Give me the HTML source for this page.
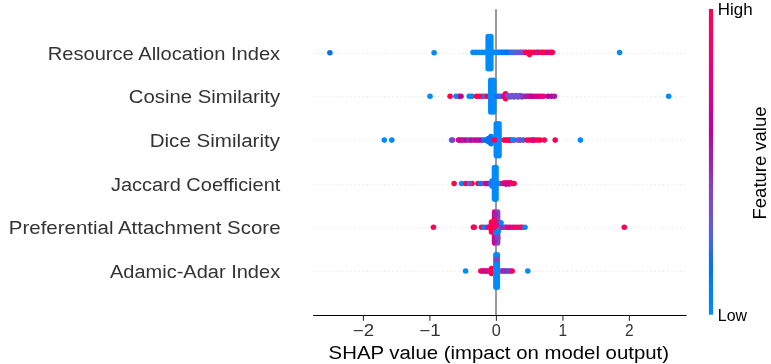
<!DOCTYPE html>
<html><head><meta charset="utf-8"><style>
html,body{margin:0;padding:0;background:#fff;overflow:hidden}
svg{display:block;will-change:transform}
text{font-family:"Liberation Sans",sans-serif}
</style></head><body>
<svg width="771" height="364" viewBox="0 0 771 364">
<defs><linearGradient id="cb" x1="0" y1="0" x2="0" y2="1"><stop offset="0.00" stop-color="#ff0051"/><stop offset="0.05" stop-color="#fe005c"/><stop offset="0.10" stop-color="#f90067"/><stop offset="0.15" stop-color="#f20072"/><stop offset="0.20" stop-color="#e9007c"/><stop offset="0.25" stop-color="#e00086"/><stop offset="0.30" stop-color="#d5008f"/><stop offset="0.35" stop-color="#c80098"/><stop offset="0.40" stop-color="#bb00a0"/><stop offset="0.45" stop-color="#ab15a7"/><stop offset="0.50" stop-color="#9b23ad"/><stop offset="0.55" stop-color="#9135ba"/><stop offset="0.60" stop-color="#8443c6"/><stop offset="0.65" stop-color="#754fd1"/><stop offset="0.70" stop-color="#6359da"/><stop offset="0.75" stop-color="#4b63e3"/><stop offset="0.80" stop-color="#236cea"/><stop offset="0.85" stop-color="#0074f0"/><stop offset="0.90" stop-color="#007cf5"/><stop offset="0.95" stop-color="#0084f9"/><stop offset="1.00" stop-color="#008bfb"/></linearGradient></defs>
<rect width="771" height="364" fill="#fff"/>
<line x1="313" y1="53.5" x2="686.5" y2="53.5" stroke="#dddddd" stroke-width="1" stroke-dasharray="0.9 3.27"/>
<line x1="313" y1="96.5" x2="686.5" y2="96.5" stroke="#dddddd" stroke-width="1" stroke-dasharray="0.9 3.27"/>
<line x1="313" y1="140.5" x2="686.5" y2="140.5" stroke="#dddddd" stroke-width="1" stroke-dasharray="0.9 3.27"/>
<line x1="313" y1="184.5" x2="686.5" y2="184.5" stroke="#dddddd" stroke-width="1" stroke-dasharray="0.9 3.27"/>
<line x1="313" y1="227.5" x2="686.5" y2="227.5" stroke="#dddddd" stroke-width="1" stroke-dasharray="0.9 3.27"/>
<line x1="313" y1="271.5" x2="686.5" y2="271.5" stroke="#dddddd" stroke-width="1" stroke-dasharray="0.9 3.27"/>
<line x1="496" y1="9.2" x2="496" y2="315" stroke="#999999" stroke-width="2"/>
<circle cx="329.9" cy="52.7" r="2.78" fill="#0074f0"/>
<circle cx="434.1" cy="52.8" r="2.78" fill="#008bfb"/>
<circle cx="619.6" cy="52.5" r="2.78" fill="#008bfb"/>
<circle cx="473.0" cy="52.4" r="2.78" fill="#008bfb"/>
<circle cx="476.0" cy="52.4" r="2.78" fill="#008bfb"/>
<circle cx="479.0" cy="52.4" r="2.78" fill="#008bfb"/>
<circle cx="482.0" cy="52.4" r="2.78" fill="#008bfb"/>
<circle cx="485.0" cy="52.4" r="2.78" fill="#008bfb"/>
<circle cx="488.0" cy="52.4" r="2.78" fill="#008bfb"/>
<circle cx="491.0" cy="52.4" r="2.78" fill="#008bfb"/>
<circle cx="494.0" cy="52.4" r="2.78" fill="#008bfb"/>
<line x1="488.2" y1="36.6" x2="488.2" y2="68.7" stroke="#008bfb" stroke-width="5.56" stroke-linecap="round"/>
<line x1="490.8" y1="36.6" x2="490.8" y2="68.7" stroke="#008bfb" stroke-width="5.56" stroke-linecap="round"/>
<circle cx="497.0" cy="52.4" r="2.78" fill="#008bfb"/>
<circle cx="498.8" cy="52.4" r="2.78" fill="#0086fa"/>
<circle cx="500.5" cy="52.4" r="2.78" fill="#0082f8"/>
<circle cx="502.2" cy="52.4" r="2.78" fill="#007ef6"/>
<circle cx="504.0" cy="52.4" r="2.78" fill="#0079f3"/>
<circle cx="506.0" cy="52.4" r="2.78" fill="#0074f0"/>
<circle cx="508.0" cy="52.4" r="2.78" fill="#0070ed"/>
<circle cx="510.0" cy="52.4" r="2.78" fill="#256cea"/>
<circle cx="512.0" cy="52.4" r="2.78" fill="#3c67e7"/>
<circle cx="514.0" cy="52.4" r="2.78" fill="#4c63e3"/>
<circle cx="516.0" cy="52.4" r="2.78" fill="#595ede"/>
<circle cx="518.0" cy="52.4" r="2.78" fill="#6459da"/>
<circle cx="520.0" cy="52.4" r="2.78" fill="#6e53d5"/>
<circle cx="522.0" cy="52.4" r="2.78" fill="#764ed0"/>
<circle cx="524.0" cy="52.4" r="2.78" fill="#7e48ca"/>
<circle cx="526.0" cy="52.4" r="2.78" fill="#ff0051"/>
<circle cx="528.8" cy="52.4" r="2.78" fill="#ff0051"/>
<circle cx="531.5" cy="52.4" r="2.78" fill="#ff0051"/>
<circle cx="534.2" cy="52.4" r="2.78" fill="#ff0051"/>
<circle cx="537.0" cy="52.4" r="2.78" fill="#ff0051"/>
<circle cx="529.5" cy="54.6" r="2.78" fill="#ff0051"/>
<circle cx="538.5" cy="52.4" r="2.78" fill="#9b23ad"/>
<circle cx="541.0" cy="52.4" r="2.78" fill="#ff0051"/>
<circle cx="543.5" cy="52.4" r="2.78" fill="#ff0051"/>
<circle cx="546.0" cy="52.4" r="2.78" fill="#ff0051"/>
<circle cx="548.5" cy="52.4" r="2.78" fill="#ab15a7"/>
<circle cx="551.0" cy="52.4" r="2.78" fill="#f90067"/>
<circle cx="552.3" cy="52.4" r="2.78" fill="#ff0051"/>
<circle cx="430.0" cy="96.3" r="2.78" fill="#008bfb"/>
<circle cx="450.1" cy="96.3" r="2.78" fill="#ff0051"/>
<circle cx="459.0" cy="96.3" r="2.78" fill="#ff0051"/>
<circle cx="456.0" cy="96.3" r="2.78" fill="#0088fa"/>
<circle cx="461.0" cy="96.3" r="2.78" fill="#bb00a0"/>
<circle cx="469.2" cy="96.3" r="2.78" fill="#0088fa"/>
<circle cx="472.0" cy="96.3" r="2.78" fill="#0088fa"/>
<circle cx="476.6" cy="96.3" r="2.78" fill="#ff0051"/>
<circle cx="479.6" cy="96.3" r="2.78" fill="#ff0051"/>
<circle cx="482.5" cy="96.3" r="2.78" fill="#ff0051"/>
<circle cx="484.7" cy="96.3" r="2.78" fill="#0088fa"/>
<circle cx="487.0" cy="96.3" r="2.78" fill="#ff0051"/>
<line x1="490.8" y1="80.4" x2="490.8" y2="112.0" stroke="#008bfb" stroke-width="5.56" stroke-linecap="round"/>
<line x1="493.7" y1="80.4" x2="493.7" y2="112.0" stroke="#008bfb" stroke-width="5.56" stroke-linecap="round"/>
<circle cx="497.0" cy="96.3" r="2.78" fill="#236cea"/>
<circle cx="499.0" cy="96.3" r="2.78" fill="#2b6be9"/>
<circle cx="501.0" cy="96.3" r="2.78" fill="#316ae8"/>
<circle cx="503.0" cy="96.3" r="2.78" fill="#3769e8"/>
<circle cx="505.5" cy="93.8" r="2.78" fill="#ff0051"/>
<circle cx="505.5" cy="98.8" r="2.78" fill="#ff0051"/>
<circle cx="504.0" cy="96.3" r="2.78" fill="#f20072"/>
<circle cx="508.0" cy="95.6" r="2.78" fill="#6e53d5"/>
<circle cx="510.0" cy="97.0" r="2.78" fill="#6e53d5"/>
<circle cx="512.0" cy="95.6" r="2.78" fill="#6e53d5"/>
<circle cx="514.0" cy="97.0" r="2.78" fill="#6e53d5"/>
<circle cx="516.0" cy="95.6" r="2.78" fill="#6e53d5"/>
<circle cx="518.0" cy="97.0" r="2.78" fill="#6e53d5"/>
<circle cx="520.0" cy="95.6" r="2.78" fill="#6e53d5"/>
<circle cx="522.0" cy="97.0" r="2.78" fill="#6e53d5"/>
<circle cx="523.0" cy="96.3" r="2.78" fill="#9135ba"/>
<circle cx="524.8" cy="96.3" r="2.78" fill="#962db3"/>
<circle cx="526.5" cy="96.3" r="2.78" fill="#9b23ad"/>
<circle cx="528.2" cy="96.3" r="2.78" fill="#a31daa"/>
<circle cx="530.0" cy="96.3" r="2.78" fill="#ab15a7"/>
<circle cx="531.0" cy="96.3" r="2.78" fill="#d5008f"/>
<circle cx="533.5" cy="96.3" r="2.78" fill="#bb00a0"/>
<circle cx="536.0" cy="96.3" r="2.78" fill="#e00086"/>
<circle cx="538.5" cy="96.3" r="2.78" fill="#c80098"/>
<circle cx="541.0" cy="96.3" r="2.78" fill="#f20072"/>
<circle cx="543.5" cy="96.3" r="2.78" fill="#e9007c"/>
<circle cx="548.0" cy="96.3" r="2.78" fill="#bb00a0"/>
<circle cx="551.5" cy="96.3" r="2.78" fill="#bb00a0"/>
<circle cx="554.5" cy="96.3" r="2.78" fill="#a21eaa"/>
<circle cx="668.7" cy="96.3" r="2.78" fill="#008bfb"/>
<circle cx="384.3" cy="140.1" r="2.78" fill="#008bfb"/>
<circle cx="391.8" cy="140.1" r="2.78" fill="#008bfb"/>
<circle cx="451.5" cy="140.1" r="2.78" fill="#008bfb"/>
<circle cx="452.6" cy="140.1" r="2.78" fill="#8443c6"/>
<circle cx="458.5" cy="140.1" r="2.78" fill="#d9008b"/>
<circle cx="460.2" cy="140.1" r="2.78" fill="#d7008d"/>
<circle cx="462.0" cy="140.1" r="2.78" fill="#d5008f"/>
<circle cx="464.0" cy="140.1" r="2.78" fill="#9b23ad"/>
<circle cx="466.5" cy="140.1" r="2.78" fill="#c0009c"/>
<circle cx="469.0" cy="140.1" r="2.78" fill="#9135ba"/>
<circle cx="471.5" cy="140.1" r="2.78" fill="#bb00a0"/>
<circle cx="474.0" cy="140.1" r="2.78" fill="#9b23ad"/>
<circle cx="476.5" cy="140.1" r="2.78" fill="#c80098"/>
<circle cx="479.0" cy="140.1" r="2.78" fill="#ab15a7"/>
<circle cx="481.5" cy="140.1" r="2.78" fill="#bb00a0"/>
<circle cx="484.0" cy="140.1" r="2.78" fill="#236cea"/>
<circle cx="486.0" cy="140.1" r="2.78" fill="#046fec"/>
<circle cx="488.0" cy="140.1" r="2.78" fill="#0072ee"/>
<circle cx="490.0" cy="140.1" r="2.78" fill="#0074f0"/>
<circle cx="491.0" cy="136.5" r="2.78" fill="#0079f3"/>
<circle cx="491.0" cy="143.7" r="2.78" fill="#0079f3"/>
<circle cx="488.5" cy="138.5" r="2.78" fill="#0074f0"/>
<circle cx="488.5" cy="141.7" r="2.78" fill="#0074f0"/>
<line x1="496.3" y1="123.8" x2="496.3" y2="155.7" stroke="#008bfb" stroke-width="5.56" stroke-linecap="round"/>
<line x1="499.0" y1="123.8" x2="499.0" y2="155.7" stroke="#008bfb" stroke-width="5.56" stroke-linecap="round"/>
<circle cx="494.4" cy="140.1" r="2.78" fill="#ff0051"/>
<circle cx="504.0" cy="140.1" r="2.78" fill="#ff0051"/>
<circle cx="506.0" cy="140.1" r="2.78" fill="#ff0051"/>
<circle cx="508.0" cy="140.1" r="2.78" fill="#ff0051"/>
<circle cx="510.0" cy="140.1" r="2.78" fill="#ff0051"/>
<circle cx="511.0" cy="140.1" r="2.78" fill="#ff0051"/>
<circle cx="514.2" cy="140.1" r="2.78" fill="#ff0051"/>
<circle cx="512.7" cy="140.1" r="2.78" fill="#0088fa"/>
<circle cx="518.0" cy="140.1" r="2.78" fill="#6359da"/>
<circle cx="519.0" cy="140.1" r="2.78" fill="#6359da"/>
<circle cx="520.9" cy="140.1" r="2.78" fill="#8443c6"/>
<circle cx="523.5" cy="140.1" r="2.78" fill="#236cea"/>
<circle cx="527.0" cy="140.1" r="2.78" fill="#ff0051"/>
<circle cx="529.6" cy="140.1" r="2.78" fill="#ff0051"/>
<circle cx="532.2" cy="140.1" r="2.78" fill="#ff0051"/>
<circle cx="534.8" cy="140.1" r="2.78" fill="#ff0051"/>
<circle cx="537.4" cy="140.1" r="2.78" fill="#ff0051"/>
<circle cx="540.0" cy="140.1" r="2.78" fill="#ff0051"/>
<circle cx="533.0" cy="140.1" r="2.78" fill="#e00086"/>
<circle cx="544.3" cy="140.1" r="2.78" fill="#ff0051"/>
<circle cx="555.2" cy="140.1" r="2.78" fill="#ff0051"/>
<circle cx="580.4" cy="140.1" r="2.78" fill="#008bfb"/>
<circle cx="454.1" cy="183.5" r="2.78" fill="#ff0051"/>
<circle cx="461.6" cy="183.5" r="2.78" fill="#008bfb"/>
<circle cx="465.7" cy="183.5" r="2.78" fill="#ff0051"/>
<circle cx="472.0" cy="183.5" r="2.78" fill="#ff0051"/>
<circle cx="469.4" cy="183.5" r="2.78" fill="#6359da"/>
<circle cx="478.0" cy="183.5" r="2.78" fill="#ff0051"/>
<circle cx="480.5" cy="183.5" r="2.78" fill="#007cf5"/>
<circle cx="483.4" cy="183.5" r="2.78" fill="#754fd1"/>
<circle cx="486.0" cy="183.5" r="2.78" fill="#d9008b"/>
<circle cx="487.5" cy="183.5" r="2.78" fill="#d7008d"/>
<circle cx="489.0" cy="183.5" r="2.78" fill="#d5008f"/>
<circle cx="500.5" cy="183.5" r="2.78" fill="#ff0051"/>
<circle cx="503.0" cy="183.5" r="2.78" fill="#ff0051"/>
<circle cx="504.5" cy="182.9" r="2.78" fill="#f90067"/>
<circle cx="506.0" cy="184.1" r="2.78" fill="#bb00a0"/>
<circle cx="507.5" cy="182.9" r="2.78" fill="#f20072"/>
<circle cx="509.0" cy="184.1" r="2.78" fill="#ab15a7"/>
<circle cx="510.5" cy="182.9" r="2.78" fill="#e9007c"/>
<circle cx="512.0" cy="183.5" r="2.78" fill="#f90067"/>
<circle cx="514.1" cy="183.5" r="2.78" fill="#ff0051"/>
<line x1="494.5" y1="167.6" x2="494.5" y2="199.1" stroke="#008bfb" stroke-width="5.56" stroke-linecap="round"/>
<line x1="496.0" y1="167.6" x2="496.0" y2="199.1" stroke="#008bfb" stroke-width="5.56" stroke-linecap="round"/>
<circle cx="491.0" cy="183.5" r="2.78" fill="#0084f9"/>
<circle cx="492.8" cy="183.5" r="2.78" fill="#0084f9"/>
<circle cx="494.5" cy="183.5" r="2.78" fill="#0084f9"/>
<circle cx="496.2" cy="183.5" r="2.78" fill="#0084f9"/>
<circle cx="498.0" cy="183.5" r="2.78" fill="#0084f9"/>
<circle cx="492.0" cy="181.0" r="2.78" fill="#0084f9"/>
<circle cx="492.0" cy="186.0" r="2.78" fill="#0084f9"/>
<circle cx="433.5" cy="227.2" r="2.78" fill="#ff0051"/>
<circle cx="473.4" cy="227.2" r="2.78" fill="#ff0051"/>
<circle cx="474.2" cy="227.2" r="2.78" fill="#ff0051"/>
<circle cx="481.5" cy="227.2" r="2.78" fill="#ff0051"/>
<circle cx="483.8" cy="227.2" r="2.78" fill="#0084f9"/>
<circle cx="486.5" cy="227.2" r="2.78" fill="#007cf5"/>
<circle cx="488.5" cy="227.2" r="2.78" fill="#f20072"/>
<circle cx="501.0" cy="227.2" r="2.78" fill="#9b23ad"/>
<circle cx="502.7" cy="227.2" r="2.78" fill="#982ab1"/>
<circle cx="504.3" cy="227.2" r="2.78" fill="#942fb5"/>
<circle cx="506.0" cy="227.2" r="2.78" fill="#9135ba"/>
<circle cx="508.0" cy="227.2" r="2.78" fill="#f90067"/>
<circle cx="510.5" cy="227.2" r="2.78" fill="#d5008f"/>
<circle cx="513.0" cy="227.2" r="2.78" fill="#fe005c"/>
<circle cx="515.5" cy="227.2" r="2.78" fill="#e00086"/>
<circle cx="518.0" cy="227.2" r="2.78" fill="#f90067"/>
<circle cx="520.5" cy="227.2" r="2.78" fill="#f20072"/>
<circle cx="522.3" cy="227.2" r="2.78" fill="#fe005c"/>
<circle cx="525.0" cy="227.2" r="2.78" fill="#008bfb"/>
<line x1="494.6" y1="212.1" x2="494.6" y2="243.0" stroke="#d9008b" stroke-width="5.56" stroke-linecap="round"/>
<line x1="497.6" y1="212.1" x2="497.6" y2="243.0" stroke="#8443c6" stroke-width="5.56" stroke-linecap="round"/>
<circle cx="494.6" cy="240.0" r="2.78" fill="#ab15a7"/>
<circle cx="497.8" cy="238.0" r="2.78" fill="#8443c6"/>
<circle cx="495.5" cy="214.5" r="2.78" fill="#9b23ad"/>
<line x1="491.5" y1="222.0" x2="491.5" y2="232.0" stroke="#ff0051" stroke-width="5.56" stroke-linecap="round"/>
<line x1="494.5" y1="220.5" x2="494.5" y2="233.0" stroke="#ff0051" stroke-width="5.56" stroke-linecap="round"/>
<circle cx="489.8" cy="227.0" r="2.78" fill="#ff0051"/>
<circle cx="497.0" cy="224.0" r="2.78" fill="#fe005c"/>
<circle cx="501.0" cy="222.8" r="2.78" fill="#0088fa"/>
<circle cx="498.3" cy="231.0" r="2.78" fill="#0088fa"/>
<circle cx="495.8" cy="232.8" r="2.78" fill="#0088fa"/>
<circle cx="496.0" cy="224.0" r="2.78" fill="#e9007c"/>
<circle cx="624.3" cy="227.2" r="2.78" fill="#ff0051"/>
<circle cx="465.6" cy="271.0" r="2.78" fill="#008bfb"/>
<circle cx="527.8" cy="271.0" r="2.78" fill="#008bfb"/>
<circle cx="480.8" cy="271.0" r="2.78" fill="#ff0051"/>
<circle cx="482.3" cy="271.0" r="2.78" fill="#fe005c"/>
<circle cx="483.8" cy="271.0" r="2.78" fill="#bb00a0"/>
<circle cx="485.3" cy="271.0" r="2.78" fill="#f20072"/>
<circle cx="486.8" cy="271.0" r="2.78" fill="#ab15a7"/>
<circle cx="488.3" cy="271.0" r="2.78" fill="#e9007c"/>
<circle cx="490.5" cy="271.0" r="2.78" fill="#ff0051"/>
<circle cx="491.5" cy="268.5" r="2.78" fill="#ff0051"/>
<circle cx="491.5" cy="273.5" r="2.78" fill="#ff0051"/>
<circle cx="501.0" cy="271.0" r="2.78" fill="#9b23ad"/>
<circle cx="502.5" cy="271.0" r="2.78" fill="#8443c6"/>
<circle cx="504.0" cy="271.0" r="2.78" fill="#ab15a7"/>
<circle cx="505.5" cy="271.0" r="2.78" fill="#893dc1"/>
<circle cx="507.0" cy="271.0" r="2.78" fill="#9b23ad"/>
<circle cx="509.0" cy="271.0" r="2.78" fill="#0074f0"/>
<circle cx="510.5" cy="271.0" r="2.78" fill="#9135ba"/>
<circle cx="512.2" cy="271.0" r="2.78" fill="#fe005c"/>
<line x1="495.9" y1="254.7" x2="495.9" y2="287.2" stroke="#008bfb" stroke-width="5.56" stroke-linecap="round"/>
<line x1="497.3" y1="254.7" x2="497.3" y2="287.2" stroke="#008bfb" stroke-width="5.56" stroke-linecap="round"/>
<circle cx="496.5" cy="259.4" r="2.78" fill="#8443c6"/>
<line x1="313" y1="315.5" x2="686.6" y2="315.5" stroke="#000" stroke-width="1"/>
<line x1="363.4" y1="315.5" x2="363.4" y2="320.8" stroke="#333333" stroke-width="1.1"/>
<line x1="429.9" y1="315.5" x2="429.9" y2="320.8" stroke="#333333" stroke-width="1.1"/>
<line x1="496.4" y1="315.5" x2="496.4" y2="320.8" stroke="#333333" stroke-width="1.1"/>
<line x1="562.9" y1="315.5" x2="562.9" y2="320.8" stroke="#333333" stroke-width="1.1"/>
<line x1="629.4" y1="315.5" x2="629.4" y2="320.8" stroke="#333333" stroke-width="1.1"/>
<text x="352.81" y="335.80" font-size="16.14" textLength="21.27" lengthAdjust="spacingAndGlyphs" fill="#333333">−2</text>
<text x="419.30" y="335.80" font-size="16.14" textLength="21.44" lengthAdjust="spacingAndGlyphs" fill="#333333">−1</text>
<text x="491.88" y="335.80" font-size="16.14" textLength="9.04" lengthAdjust="spacingAndGlyphs" fill="#333333">0</text>
<text x="558.56" y="335.80" font-size="16.14" textLength="8.60" lengthAdjust="spacingAndGlyphs" fill="#333333">1</text>
<text x="624.91" y="335.80" font-size="16.14" textLength="8.59" lengthAdjust="spacingAndGlyphs" fill="#333333">2</text>
<text x="47.74" y="59.85" font-size="19.08" textLength="232.39" lengthAdjust="spacingAndGlyphs" fill="#333333">Resource Allocation Index</text>
<text x="128.80" y="103.45" font-size="19.08" textLength="151.32" lengthAdjust="spacingAndGlyphs" fill="#333333">Cosine Similarity</text>
<text x="149.66" y="147.05" font-size="19.08" textLength="130.41" lengthAdjust="spacingAndGlyphs" fill="#333333">Dice Similarity</text>
<text x="110.94" y="190.55" font-size="19.08" textLength="169.37" lengthAdjust="spacingAndGlyphs" fill="#333333">Jaccard Coefficient</text>
<text x="8.87" y="234.15" font-size="19.08" textLength="271.65" lengthAdjust="spacingAndGlyphs" fill="#333333">Preferential Attachment Score</text>
<text x="110.00" y="277.75" font-size="19.08" textLength="170.14" lengthAdjust="spacingAndGlyphs" fill="#333333">Adamic-Adar Index</text>
<text x="328.62" y="359.00" font-size="19.08" textLength="340.37" lengthAdjust="spacingAndGlyphs" fill="#000">SHAP value (impact on model output)</text>
<rect x="708.9" y="8.9" width="4.1" height="305.8" fill="url(#cb)"/>
<text x="717.77" y="14.80" font-size="16.14" textLength="34.80" lengthAdjust="spacingAndGlyphs" fill="#000">High</text>
<text x="717.86" y="320.80" font-size="16.14" textLength="29.15" lengthAdjust="spacingAndGlyphs" fill="#000">Low</text>
<text transform="translate(765.6,218) rotate(-90)" x="-1.48" y="0" font-size="17.61" textLength="113.01" lengthAdjust="spacingAndGlyphs" fill="#000">Feature value</text>
</svg>
</body></html>
